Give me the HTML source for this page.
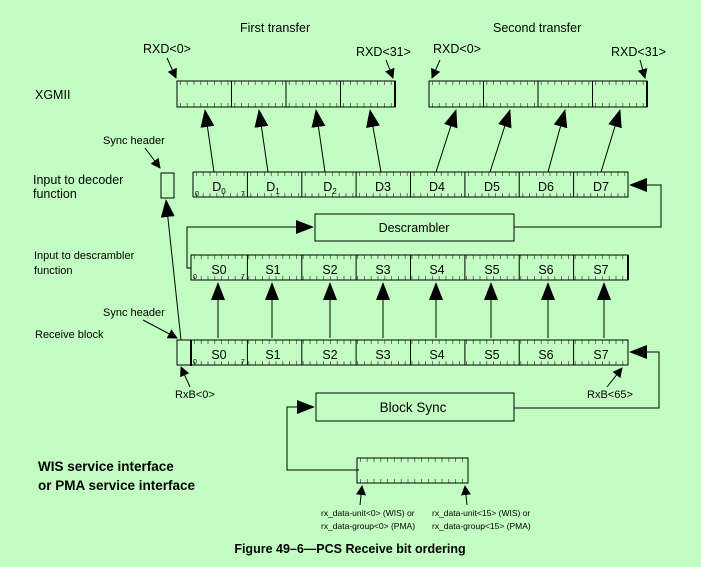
<!DOCTYPE html>
<html><head><meta charset="utf-8"><style>
html,body{margin:0;padding:0;background:#c2fec2;}
svg{display:block;font-family:"Liberation Sans",Arial,sans-serif;}
</style></head><body>
<svg width="701" height="567" viewBox="0 0 701 567" xmlns="http://www.w3.org/2000/svg">
<defs>
<marker id="ah" markerWidth="10" markerHeight="10" refX="9" refY="5" orient="auto" markerUnits="userSpaceOnUse"><path d="M0,0 L10,5 L0,10 z" fill="#000"/></marker>
<marker id="big" markerWidth="18" markerHeight="14" refX="17" refY="7" orient="auto" markerUnits="userSpaceOnUse"><path d="M0,0 L18,7 L0,14 z" fill="#000"/></marker>
</defs>
<g fill="#000" font-size="12.5">
<text x="240" y="32">First transfer</text>
<text x="493" y="32">Second transfer</text>
<text x="143" y="53">RXD&lt;0&gt;</text>
<text x="356" y="56">RXD&lt;31&gt;</text>
<text x="433" y="53">RXD&lt;0&gt;</text>
<text x="611" y="56">RXD&lt;31&gt;</text>
<text x="35" y="99">XGMII</text>
<text x="103" y="144" font-size="11">Sync header</text>
<text x="33" y="184">Input to decoder</text>
<text x="33" y="198">function</text>
<text x="34" y="259" font-size="11">Input to descrambler</text>
<text x="34" y="274" font-size="11">function</text>
<text x="103" y="316" font-size="11">Sync header</text>
<text x="35" y="338" font-size="11">Receive block</text>
<text x="175" y="398" font-size="11">RxB&lt;0&gt;</text>
<text x="587" y="398" font-size="11">RxB&lt;65&gt;</text>
<text x="38" y="471" font-size="13.5" font-weight="bold">WIS service interface</text>
<text x="38" y="490" font-size="13.5" font-weight="bold">or PMA service interface</text>
<text x="321" y="516" font-size="8.5">rx_data-unit&lt;0&gt; (WIS) or</text>
<text x="321" y="529" font-size="8.5">rx_data-group&lt;0&gt; (PMA)</text>
<text x="432" y="516" font-size="8.5">rx_data-unit&lt;15&gt; (WIS) or</text>
<text x="432" y="529" font-size="8.5">rx_data-group&lt;15&gt; (PMA)</text>
<text x="350" y="553" font-size="12.5" font-weight="bold" text-anchor="middle">Figure 49–6—PCS Receive bit ordering</text>
</g>
<!-- ticks -->
<g stroke="#555" stroke-width="4" stroke-dasharray="0.8 6">
<path d="M180,83H394M180,105H394M432,83H646M432,105H646"/>
<path d="M196,174H627M196,195H627"/>
<path d="M194,257H627M194,278H627"/>
<path d="M194,342H627M194,363H627"/>
<path d="M360,460H467M360,481H467"/>
</g>
<g stroke="#000" fill="none" stroke-width="1">
<rect x="177" y="81" width="218" height="26"/>
<path d="M231.5,81V107M286,81V107M340.5,81V107"/>
<line x1="395" y1="81" x2="395" y2="107" stroke-width="2"/>
<rect x="429" y="81" width="218" height="26"/>
<path d="M483.5,81V107M538,81V107M592.5,81V107"/>
<line x1="647" y1="81" x2="647" y2="107" stroke-width="2"/>
<rect x="161" y="173" width="13" height="25"/>
<path d="M193,172H628V197H193M193,172V197M247.4,172V197M301.8,172V197M356.1,172V197M410.5,172V197M464.9,172V197M519.2,172V197M573.6,172V197"/>
<rect x="315" y="214" width="199" height="27"/>
<path d="M191,255H628V280H191Z M247.4,255V280M301.8,255V280M356.1,255V280M410.5,255V280M464.9,255V280M519.2,255V280M573.6,255V280"/>
<line x1="628" y1="255" x2="628" y2="280" stroke-width="2"/>
<path d="M177,340H628V365H177Z M247.4,340V365M301.8,340V365M356.1,340V365M410.5,340V365M464.9,340V365M519.2,340V365M573.6,340V365"/>
<line x1="191" y1="340" x2="191" y2="366" stroke-width="2"/>
<rect x="316" y="393" width="198" height="28"/>
<rect x="357" y="458" width="111" height="25"/>
<path d="M514,227H661V185H630" marker-end="url(#big)"/>
<path d="M191,268H187V227H313" marker-end="url(#big)"/>
<path d="M514,408H659V352H630" marker-end="url(#big)"/>
<path d="M359,470H287V407H314" marker-end="url(#big)"/>
<path d="M181,340L166,200" marker-end="url(#big)"/>
<path d="M214,172L205,110" marker-end="url(#big)"/>
<path d="M268,172L259,110" marker-end="url(#big)"/>
<path d="M325,172L316,110" marker-end="url(#big)"/>
<path d="M381,172L370,110" marker-end="url(#big)"/>
<path d="M436,172L456,110" marker-end="url(#big)"/>
<path d="M490,172L510,110" marker-end="url(#big)"/>
<path d="M548,172L565,110" marker-end="url(#big)"/>
<path d="M601,172L620,110" marker-end="url(#big)"/>
<path d="M218,338V283" marker-end="url(#big)"/>
<path d="M272,338V283" marker-end="url(#big)"/>
<path d="M330,338V283" marker-end="url(#big)"/>
<path d="M383,338V283" marker-end="url(#big)"/>
<path d="M436,338V283" marker-end="url(#big)"/>
<path d="M491,338V283" marker-end="url(#big)"/>
<path d="M548,338V283" marker-end="url(#big)"/>
<path d="M604,338V283" marker-end="url(#big)"/>
<path d="M167,58L176,78" marker-end="url(#ah)"/>
<path d="M386,60L393,78" marker-end="url(#ah)"/>
<path d="M440,60L432,78" marker-end="url(#ah)"/>
<path d="M640,60L645,78" marker-end="url(#ah)"/>
<path d="M145,148L160,168" marker-end="url(#ah)"/>
<path d="M143,320L177,338" marker-end="url(#ah)"/>
<path d="M190,387L181,367" marker-end="url(#ah)"/>
<path d="M607,387L622,368" marker-end="url(#ah)"/>
<path d="M360,505L362,486" marker-end="url(#ah)"/>
<path d="M467,505L465,486" marker-end="url(#ah)"/>
</g>
<g fill="#000" font-size="12.5" text-anchor="middle">
<text x="219" y="191">D<tspan font-size="8" dy="3">0</tspan></text>
<text x="273" y="191">D<tspan font-size="8" dy="3">1</tspan></text>
<text x="330" y="191">D<tspan font-size="8" dy="3">2</tspan></text>
<text x="383" y="191">D3</text><text x="437" y="191">D4</text><text x="492" y="191">D5</text><text x="546" y="191">D6</text><text x="601" y="191">D7</text>
<text x="219" y="274">S0</text><text x="273" y="274">S1</text><text x="330" y="274">S2</text><text x="383" y="274">S3</text><text x="437" y="274">S4</text><text x="492" y="274">S5</text><text x="546" y="274">S6</text><text x="601" y="274">S7</text>
<text x="219" y="359">S0</text><text x="273" y="359">S1</text><text x="330" y="359">S2</text><text x="383" y="359">S3</text><text x="437" y="359">S4</text><text x="492" y="359">S5</text><text x="546" y="359">S6</text><text x="601" y="359">S7</text>
<text x="414" y="232">Descrambler</text>
<text x="413" y="412" font-size="13.5">Block Sync</text>
<g font-size="7"><text x="197" y="196">0</text><text x="243" y="196">7</text><text x="195" y="279">0</text><text x="243" y="279">7</text><text x="195" y="364">0</text><text x="243" y="364">7</text></g>
</g>
</svg>
</body></html>
